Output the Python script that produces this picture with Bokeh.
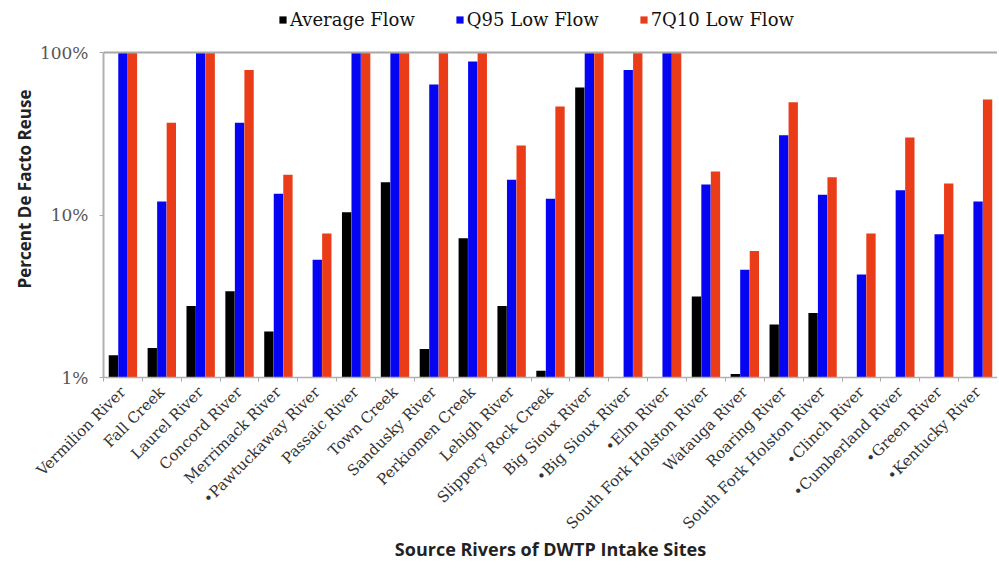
import numpy as np
from bokeh.plotting import figure
from bokeh.models import (ColumnDataSource, FixedTicker, Range1d, Span, Legend,
                          LegendItem)
from bokeh.transform import dodge
from bokeh.embed import file_html
from bokeh.resources import INLINE

rivers = [
    "Vermilion River", "Fall Creek", "Laurel River", "Concord River",
    "Merrimack River", "\u2022Pawtuckaway River", "Passaic River", "Town Creek",
    "Sandusky River", "Perkiomen Creek", "Lehigh River", "Slippery Rock Creek",
    "Big Sioux River", "\u2022Big Sioux River", "\u2022Elm River",
    "South Fork Holston River", "Watauga River", "Roaring River",
    "South Fork Holston River", "\u2022Clinch River", "\u2022Cumberland River",
    "\u2022Green River", "\u2022Kentucky River",
]
avg_flow = [1.37, 1.52, 2.75, 3.4, 1.92, None, 10.4, 15.9, 1.5, 7.2, 2.75, 1.1,
            61, None, None, 3.15, 1.05, 2.12, 2.49, None, None, None, None]
q95_flow = [100, 12.1, 100, 37, 13.5, 5.3, 100, 100, 63.5, 88, 16.5, 12.6,
            100, 78, 100, 15.4, 4.6, 31, 13.3, 4.3, 14.2, 7.6, 12.1]
q7q10_flow = [100, 37, 100, 78, 17.7, 7.7, 100, 100, 100, 100, 26.8, 46.5,
              100, 100, 100, 18.5, 6.0, 49.5, 17.1, 7.7, 30, 15.6, 51.4]
series_names = ["Average Flow", "Q95 Low Flow", "7Q10 Low Flow"]
y_ticks = [1, 10, 100]
y_tick_labels = ["1%", "10%", "100%"]

colors = ["#000000", "#0505F2", "#EA3C18"]
offsets = [-0.245, 0.0, 0.245]
SERIF = "DejaVu Serif"
SANS = "Open Sans"

# layout: 325 px for the two decades, 52 px of headroom above 100% for the legend
PLOT_H = 325
HEAD = 52
decade_px = PLOT_H / (np.log10(y_ticks[-1]) - np.log10(y_ticks[0]))
y_top = y_ticks[-1] * 10 ** (HEAD / decade_px)

idx = list(range(len(rivers)))


def make_source(vals):
    xs = [i for i, v in zip(idx, vals) if v is not None]
    ys = [v for v in vals if v is not None]
    return ColumnDataSource(dict(x=xs, top=ys, bottom=[y_ticks[0]] * len(xs)))


p = figure(frame_width=894, frame_height=PLOT_H + HEAD, y_axis_type="log",
           x_range=Range1d(-0.5, len(rivers) - 0.5),
           y_range=Range1d(y_ticks[0], y_top),
           output_backend="svg", toolbar_location=None,
           min_border_left=103, min_border_right=0, min_border_top=0,
           min_border_bottom=4)

renderers = []
for vals, col, off in zip([avg_flow, q95_flow, q7q10_flow], colors, offsets):
    r = p.vbar(x=dodge("x", off, range=p.x_range), top="top", bottom="bottom",
               width=0.24, source=make_source(vals), fill_color=col,
               line_color=None)
    renderers.append(r)

legend = Legend(items=[LegendItem(label=n, renderers=[r])
                       for n, r in zip(series_names, renderers)],
                orientation="horizontal", location=(175, 347),
                glyph_width=9, glyph_height=9, label_standoff=3, spacing=40,
                padding=0, margin=0, border_line_color=None,
                background_fill_alpha=0,
                label_text_font=SERIF, label_text_font_size="18px",
                label_text_color="#111111")
p.add_layout(legend, "center")

p.add_layout(Span(location=y_ticks[-1], dimension="width",
                  line_color="#a8a8a8", line_width=2))

p.outline_line_color = None
p.xgrid.grid_line_color = None
p.ygrid.grid_line_color = None
p.background_fill_color = "white"
p.border_fill_color = "white"

# x axis
p.xaxis.ticker = FixedTicker(ticks=idx, minor_ticks=[i - 0.5 for i in idx] + [idx[-1] + 0.5])
p.xaxis.major_label_overrides = {i: n for i, n in zip(idx, rivers)}
p.xaxis.major_label_orientation = np.pi / 4
p.xaxis.major_tick_line_color = None
p.xaxis.minor_tick_line_color = "#aaaaaa"
p.xaxis.minor_tick_out = 4
p.xaxis.minor_tick_in = 0
p.xaxis.axis_line_color = "#b0b0b0"
p.xaxis.axis_line_width = 1.5
p.xaxis.major_label_text_font = SERIF
p.xaxis.major_label_text_font_size = "15px"
p.xaxis.major_label_text_color = "#333333"
p.xaxis.major_label_standoff = 6
p.xaxis.axis_label = "Source Rivers of DWTP Intake Sites"
p.xaxis.axis_label_text_font = SANS
p.xaxis.axis_label_text_font_style = "bold"
p.xaxis.axis_label_text_font_size = "18px"
p.xaxis.axis_label_text_color = "#222222"
p.xaxis.axis_label_standoff = -5

# y axis
p.yaxis.bounds = (y_ticks[0], y_ticks[-1])
p.yaxis.ticker = FixedTicker(ticks=y_ticks, minor_ticks=[])
p.yaxis.major_label_overrides = {t: l for t, l in zip(y_ticks, y_tick_labels)}
p.yaxis.major_tick_line_color = "#aaaaaa"
p.yaxis.major_tick_out = 4
p.yaxis.major_tick_in = 0
p.yaxis.minor_tick_line_color = None
p.yaxis.axis_line_color = "#b0b0b0"
p.yaxis.axis_line_width = 2
p.yaxis.major_label_text_font = SERIF
p.yaxis.major_label_text_font_size = "17px"
p.yaxis.major_label_text_color = "#555555"
p.yaxis.major_label_standoff = 11
p.yaxis.axis_label = "Percent De Facto Reuse"
p.yaxis.axis_label_text_font = SANS
p.yaxis.axis_label_text_font_style = "bold"
p.yaxis.axis_label_text_font_size = "17px"
p.yaxis.axis_label_text_color = "#222222"
p.yaxis.axis_label_standoff = 1

open("out.html", "w").write(file_html(p, INLINE))
